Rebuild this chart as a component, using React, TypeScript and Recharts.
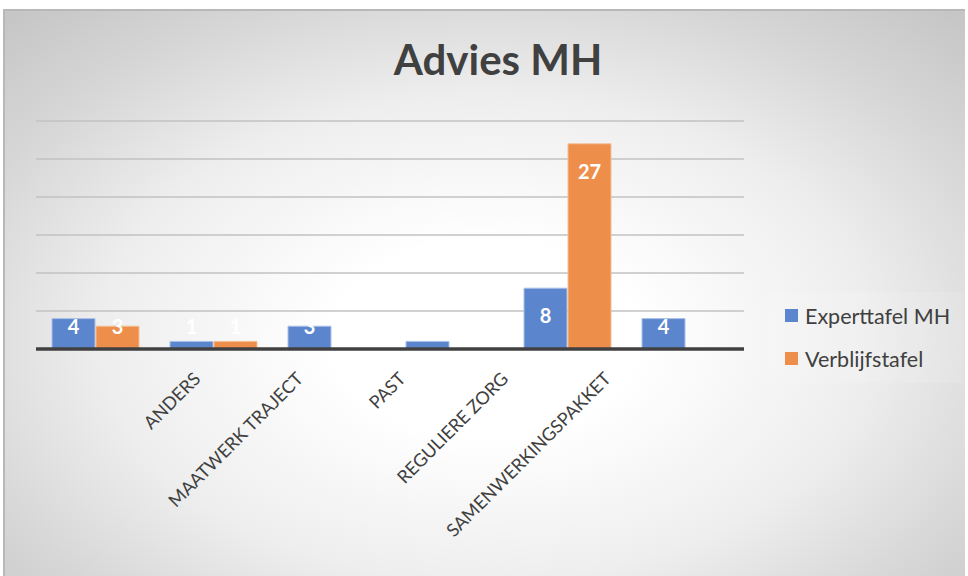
import React from 'react';
import { BarChart, Bar, XAxis, YAxis, CartesianGrid, LabelList } from 'recharts';

const categories = ['', 'ANDERS', 'MAATWERK TRAJECT', 'PAST', 'REGULIERE ZORG', 'SAMENWERKINGSPAKKET'];
const experttafel = [4, 1, 3, 1, 8, 4];
const verblijfstafel: (number | null)[] = [3, 1, null, null, 27, null];
const yTicks = [0, 5, 10, 15, 20, 25, 30];

const data = categories.map((name, i) => ({
  name,
  expert: experttafel[i],
  verblijf: verblijfstafel[i],
}));

const FONT = 'Lato, "Open Sans", sans-serif';

function CategoryTick(props: any) {
  const { x, y, payload, index } = props;
  // Excel squeezes the rotated labels a bit to the left
  const dx = 4 - 15.4 * index;
  return (
    <g transform={`translate(${x + dx},${y + 23})`}>
      <text
        transform="rotate(-45)"
        textAnchor="end"
        fill="#404040"
        fontSize={18}
        fontFamily={FONT}
      >
        {payload.value}
      </text>
    </g>
  );
}

function ValueLabel(props: any) {
  const { x, y, width, height, value } = props;
  if (value === null || value === undefined) return null;
  const base = y + height;
  const cy = Math.min(y + 27, base - 23);
  return (
    <text
      x={x + width / 2}
      y={cy}
      textAnchor="middle"
      dominantBaseline="central"
      fill="#ffffff"
      fontWeight={700}
      fontSize={20}
      fontFamily={FONT}
    >
      {value}
    </text>
  );
}

const legendItems = [
  { label: 'Experttafel MH', color: '#5B86CE' },
  { label: 'Verblijfstafel', color: '#EE8E4B' },
];

export default function App() {
  return (
    <div style={{ position: 'fixed', left: 0, top: 0, width: 968, height: 576, background: '#ffffff' }}>
      <div
        style={{
          position: 'absolute',
          left: 3,
          top: 9,
          width: 962,
          height: 567,
          borderTop: '2px solid #b8b8b8',
          borderLeft: '2px solid #b8b8b8',
          boxSizing: 'border-box',
          background:
            'radial-gradient(ellipse 72% 78% at 50% 58%, #ffffff 0%, #ffffff 22%, #eeeeee 55%, #d6d6d6 80%, #c6c6c6 100%)',
        }}
      />
      <div
        style={{
          position: 'absolute',
          left: 0,
          top: 34,
          width: 996,
          textAlign: 'center',
          fontFamily: FONT,
          fontWeight: 700,
          fontSize: 42,
          color: '#404040',
        }}
      >
        Advies MH
      </div>
      <div style={{ position: 'absolute', left: 0, top: 0 }}>
        <BarChart
          width={968}
          height={576}
          data={data}
          margin={{ top: 121, right: 224, bottom: 0, left: 36 }}
          barGap={1}
          barSize={43}
        >
          <CartesianGrid vertical={false} stroke="#c2c2c2" strokeWidth={1.5} />
          <YAxis
            width={0}
            domain={[0, 30]}
            ticks={yTicks}
            tick={{ fill: 'transparent', fontSize: 1 }}
            axisLine={false}
            tickLine={false}
          />
          <XAxis
            dataKey="name"
            height={227}
            interval={0}
            tick={<CategoryTick />}
            tickLine={false}
            axisLine={{ stroke: '#404040', strokeWidth: 3.5 }}
          />
          <Bar dataKey="expert" name="Experttafel MH" fill="#5B86CE" stroke="#aac0e8" strokeWidth={1} isAnimationActive={false}>
            <LabelList dataKey="expert" content={<ValueLabel />} />
          </Bar>
          <Bar dataKey="verblijf" name="Verblijfstafel" fill="#EE8E4B" stroke="#f5bf97" strokeWidth={1} isAnimationActive={false}>
            <LabelList dataKey="verblijf" content={<ValueLabel />} />
          </Bar>
        </BarChart>
      </div>
      <div
        style={{
          position: 'absolute',
          left: 768,
          top: 292,
          width: 195,
          height: 91,
          background: 'rgba(255,255,255,0.12)',
          paddingTop: 2,
          boxSizing: 'border-box',
        }}
      >
        {legendItems.map(it => (
          <div key={it.label} style={{ display: 'flex', alignItems: 'center', height: 43, paddingLeft: 17 }}>
            <span style={{ width: 13, height: 13, background: it.color, display: 'inline-block', marginRight: 7 }} />
            <span style={{ fontFamily: FONT, fontSize: 21.5, color: '#404040' }}>{it.label}</span>
          </div>
        ))}
      </div>
    </div>
  );
}
